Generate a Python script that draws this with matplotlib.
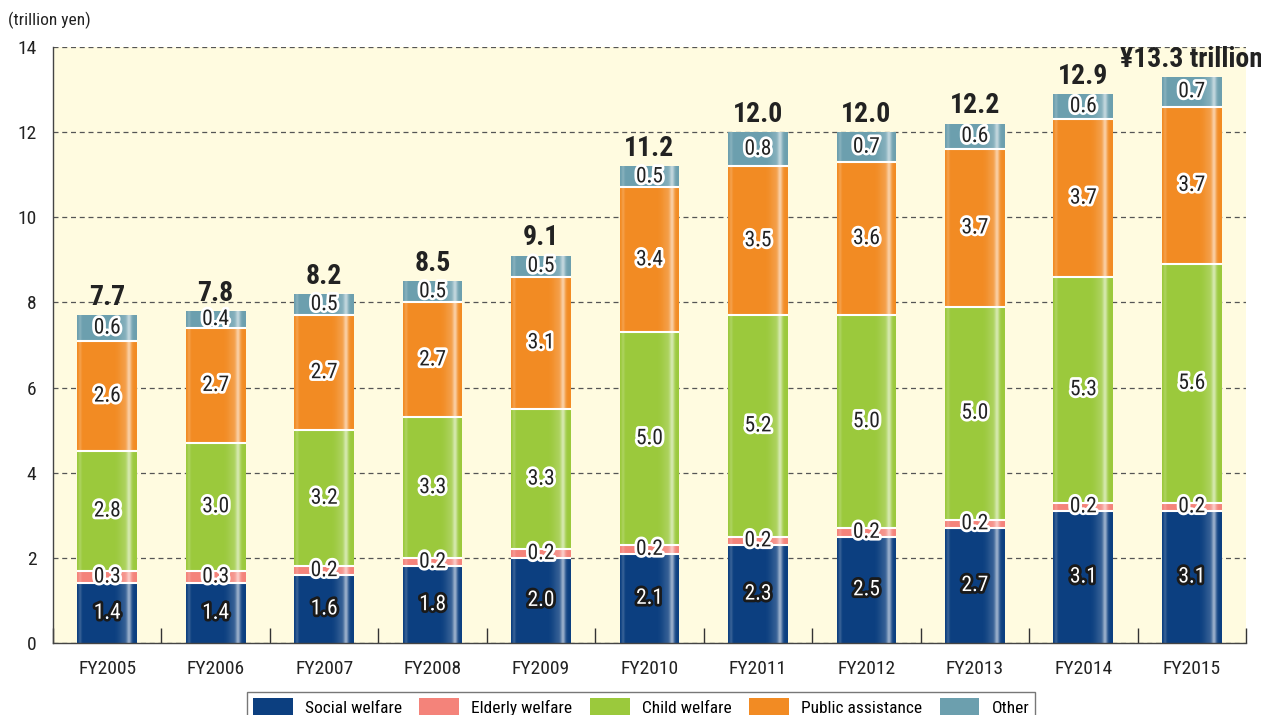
import numpy as np
import matplotlib
matplotlib.use("Agg")
import matplotlib.pyplot as plt
import matplotlib.patheffects as pe
from matplotlib.patches import Patch

plt.rcParams['font.family'] = ['Liberation Sans Narrow', 'DejaVu Sans Condensed',
                               'Roboto Condensed', 'Roboto', 'DejaVu Sans']

# welfare spending by category, trillion yen
years = ['FY2005', 'FY2006', 'FY2007', 'FY2008', 'FY2009', 'FY2010',
         'FY2011', 'FY2012', 'FY2013', 'FY2014', 'FY2015']
social = [1.4, 1.4, 1.6, 1.8, 2.0, 2.1, 2.3, 2.5, 2.7, 3.1, 3.1]
elderly = [0.3, 0.3, 0.2, 0.2, 0.2, 0.2, 0.2, 0.2, 0.2, 0.2, 0.2]
child = [2.8, 3.0, 3.2, 3.3, 3.3, 5.0, 5.2, 5.0, 5.0, 5.3, 5.6]
public = [2.6, 2.7, 2.7, 2.7, 3.1, 3.4, 3.5, 3.6, 3.7, 3.7, 3.7]
other = [0.6, 0.4, 0.5, 0.5, 0.5, 0.5, 0.8, 0.7, 0.6, 0.6, 0.7]
totals = [7.7, 7.8, 8.2, 8.5, 9.1, 11.2, 12.0, 12.0, 12.2, 12.9, 13.3]

series = [
    ('Social welfare', social, '#0C3F80'),
    ('Elderly welfare', elderly, '#F4837A'),
    ('Child welfare', child, '#9BC93C'),
    ('Public assistance', public, '#F28B23'),
    ('Other', other, '#6C9FAE'),
]

fig = plt.figure(figsize=(12.61, 7.15), dpi=100)
ax = fig.add_axes([53 / 1261, 1 - 643 / 715, 1193 / 1261, 596 / 715])
ax.set_facecolor('#FFFBE0')

x = np.arange(len(years))
w = 0.55

# glossy stripe across each bar
prof = np.linspace(0, 1, 200)
alpha = (0.5 * np.exp(-((prof - 0.87) / 0.04) ** 2)
         + 0.15 * np.exp(-((prof - 0.8) / 0.1) ** 2)
         + 0.18 * np.exp(-((prof - 0.05) / 0.025) ** 2))
shine = np.ones((1, 200, 4))
shine[0, :, 3] = np.clip(alpha, 0, 1)

outline_dark = [pe.withStroke(linewidth=4, foreground='white')]
outline_light = [pe.withStroke(linewidth=4, foreground='#1a1a1a')]

bottom = np.zeros(len(years))
for name, vals, col in series:
    vals = np.array(vals)
    ax.bar(x, vals, w, bottom=bottom, color=col, zorder=2)
    for xi, b, v in zip(x, bottom, vals):
        if name == 'Social welfare':
            ax.text(xi, b + v / 2, f'{v:.1f}', ha='center', va='center', fontsize=15.5,
                    color='white', path_effects=outline_light, zorder=4)
        else:
            ax.text(xi, b + v / 2, f'{v:.1f}', ha='center', va='center', fontsize=15.5,
                    color='#222222', path_effects=outline_dark, zorder=4)
    bottom = bottom + vals
    if name != 'Other':
        ax.hlines(bottom, x - w / 2, x + w / 2, colors='white', linewidth=1.5, zorder=3)

for xi, t in zip(x, totals):
    ax.imshow(shine, extent=[xi - w / 2, xi + w / 2, 0, t], aspect='auto',
              interpolation='bilinear', zorder=2.5)
    label = f'¥{t:.1f} trillion' if xi == len(years) - 1 else f'{t:.1f}'
    ax.text(xi, t + 0.1, label, ha='center', va='bottom', fontsize=20,
            fontweight='bold', color='#222222', zorder=4, clip_on=False)

ax.set_xlim(-0.5, len(years) - 0.5)
ax.set_ylim(0, 14)
ax.set_yticks(np.arange(0, 15, 2))
ax.yaxis.grid(True, linestyle=(0, (4, 3)), color='#555555', linewidth=0.9)
ax.set_axisbelow(True)

ax.set_xticks(x)
ax.set_xticklabels(years)
ax.set_xticks(np.arange(-0.5, len(years)), minor=True)
ax.tick_params(axis='x', which='major', length=0, pad=12, labelsize=14, labelcolor='#222222')
ax.tick_params(axis='x', which='minor', direction='in', length=11, width=1, color='#333333')
ax.tick_params(axis='y', length=0, pad=12, labelsize=14, labelcolor='#222222')

for s in ['top', 'right']:
    ax.spines[s].set_visible(False)
for s in ['left', 'bottom']:
    ax.spines[s].set_color('#444444')
    ax.spines[s].set_linewidth(1.0)

fig.text(8 / 1261, 1 - 20 / 715, '(trillion yen)', fontsize=12.5, color='#222222', va='center')

handles = [Patch(facecolor=c, label=n) for n, _, c in series]
fig.legend(handles=handles, loc='upper center', bbox_to_anchor=(641 / 1261, 1 - 683 / 715),
           ncol=5, frameon=True, fancybox=False, edgecolor='#555555', fontsize=12.5,
           handlelength=2.3, handleheight=1.3, columnspacing=1.0, handletextpad=0.7,
           borderpad=0.35)

fig.savefig('out.png', dpi=100, facecolor='white')
